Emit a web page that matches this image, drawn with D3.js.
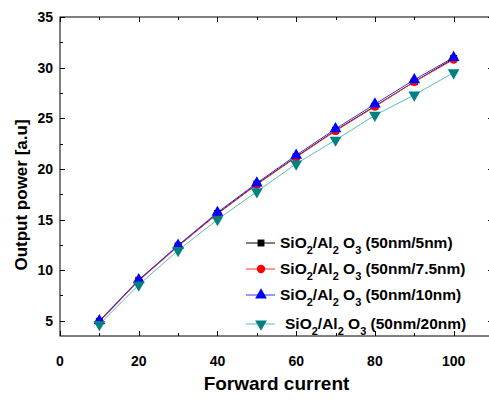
<!DOCTYPE html>
<html><head><meta charset="utf-8">
<script src="https://cdn.jsdelivr.net/npm/d3@7"></script>
<style>body{margin:0;background:#fff}svg{display:block}text{font-family:"Liberation Sans",Arial,sans-serif;font-weight:bold}</style>
</head><body><svg id="c" width="489" height="402"></svg>
<script>
const current = [10,20,30,40,50,60,70,80,90,100];
const s5nm   = [4.95,9.0,12.4,15.6,18.5,21.2,23.8,26.2,28.6,30.9];
const s7_5nm = [4.9,8.95,12.35,15.55,18.45,21.15,23.75,26.15,28.6,30.8];
const s10nm  = [5.0,9.05,12.45,15.7,18.6,21.35,23.95,26.4,28.8,31.0];
const s20nm  = [4.65,8.55,11.95,15.0,17.75,20.5,22.85,25.3,27.3,29.5];
const seriesNames = ["50nm/5nm","50nm/7.5nm","50nm/10nm","50nm/20nm"];
const xTicks = [0,20,40,60,80,100];
const yTicks = [5,10,15,20,25,30,35];

const series = [
  {name:seriesNames[0], vals:s5nm, color:"#000", line:"#000", sym:d3.symbolSquare, size:48},
  {name:seriesNames[1], vals:s7_5nm, color:"#ff0000", line:"#ff3030", sym:d3.symbolCircle, size:55},
  {name:seriesNames[2], vals:s10nm, color:"#0000ff", line:"#3030ff", sym:d3.symbolTriangle, size:60},
  {name:seriesNames[3], vals:s20nm, color:"#008080", line:"#5cbcbc", sym:d3.symbolTriangle, size:60, rot:180}
];

const svg = d3.select("#c");
const L=60, T=17, R=493, B=336;
const x = d3.scaleLinear().domain([0,110]).range([L,R]);
const y = d3.scaleLinear().domain([3.5,35]).range([B,T]);

const ax = svg.append("g").attr("stroke","#000").attr("stroke-width",1);
ax.append("rect").attr("x",L).attr("y",T).attr("width",R-L).attr("height",B-T).attr("fill","none");
d3.range(0,111,10).forEach(v=>{
  const len = v%20===0?5:3, px=Math.round(x(v))+0.5;
  ax.append("line").attr("x1",px).attr("x2",px).attr("y1",B).attr("y2",B-len);
  ax.append("line").attr("x1",px).attr("x2",px).attr("y1",T).attr("y2",T+len);
});
d3.range(5,35.1,2.5).forEach(v=>{
  const len = v%5===0?5:3, py=Math.round(y(v))+0.5;
  ax.append("line").attr("y1",py).attr("y2",py).attr("x1",L).attr("x2",L+len);
  ax.append("line").attr("y1",py).attr("y2",py).attr("x1",R).attr("x2",R-len);
});
xTicks.forEach(v=>svg.append("text").attr("x",x(v)).attr("y",366).attr("text-anchor","middle").attr("font-size",14).text(v));
yTicks.forEach(v=>svg.append("text").attr("x",53).attr("y",y(v)+5).attr("text-anchor","end").attr("font-size",14).text(v));

svg.append("text").attr("x",(L+R)/2).attr("y",390).attr("text-anchor","middle").attr("font-size",19).text("Forward current");
svg.append("text").attr("transform","translate(27,195) rotate(-90)").attr("text-anchor","middle").attr("font-size",17).text("Output power [a.u]");

const line = d3.line().x((d,i)=>x(current[i])).y(d=>y(d));
series.forEach(s=>{
  svg.append("path").attr("d",line(s.vals)).attr("fill","none").attr("stroke",s.line).attr("stroke-width",1);
});
series.forEach(s=>{
  s.vals.forEach((v,i)=>{
    svg.append("path").attr("d",d3.symbol(s.sym,s.size)())
      .attr("transform",`translate(${x(current[i])},${y(v)})`+(s.rot?` rotate(${s.rot})`:""))
      .attr("fill",s.color);
  });
});

const ly=[243,269,295,324];
series.forEach((s,i)=>{
  const g=svg.append("g").attr("transform",`translate(0,${ly[i]})`);
  g.append("line").attr("x1",246).attr("x2",275).attr("stroke",s.line).attr("stroke-width",1);
  g.append("path").attr("d",d3.symbol(s.sym,s.size)()).attr("transform","translate(261,0)"+(s.rot?" rotate(180)":"")).attr("fill",s.color);
  const t=g.append("text").attr("x",i===3?285:280).attr("y",5).attr("font-size",15.5);
  t.append("tspan").text("SiO");
  t.append("tspan").attr("font-size",11).attr("dy",6).text("2");
  t.append("tspan").attr("dy",-6).text("/Al");
  t.append("tspan").attr("font-size",11).attr("dy",6).text("2");
  t.append("tspan").attr("dy",-6).text(" O");
  t.append("tspan").attr("font-size",11).attr("dy",6).text("3");
  t.append("tspan").attr("dy",-6).text(" ("+s.name+")");
});
</script></body></html>
